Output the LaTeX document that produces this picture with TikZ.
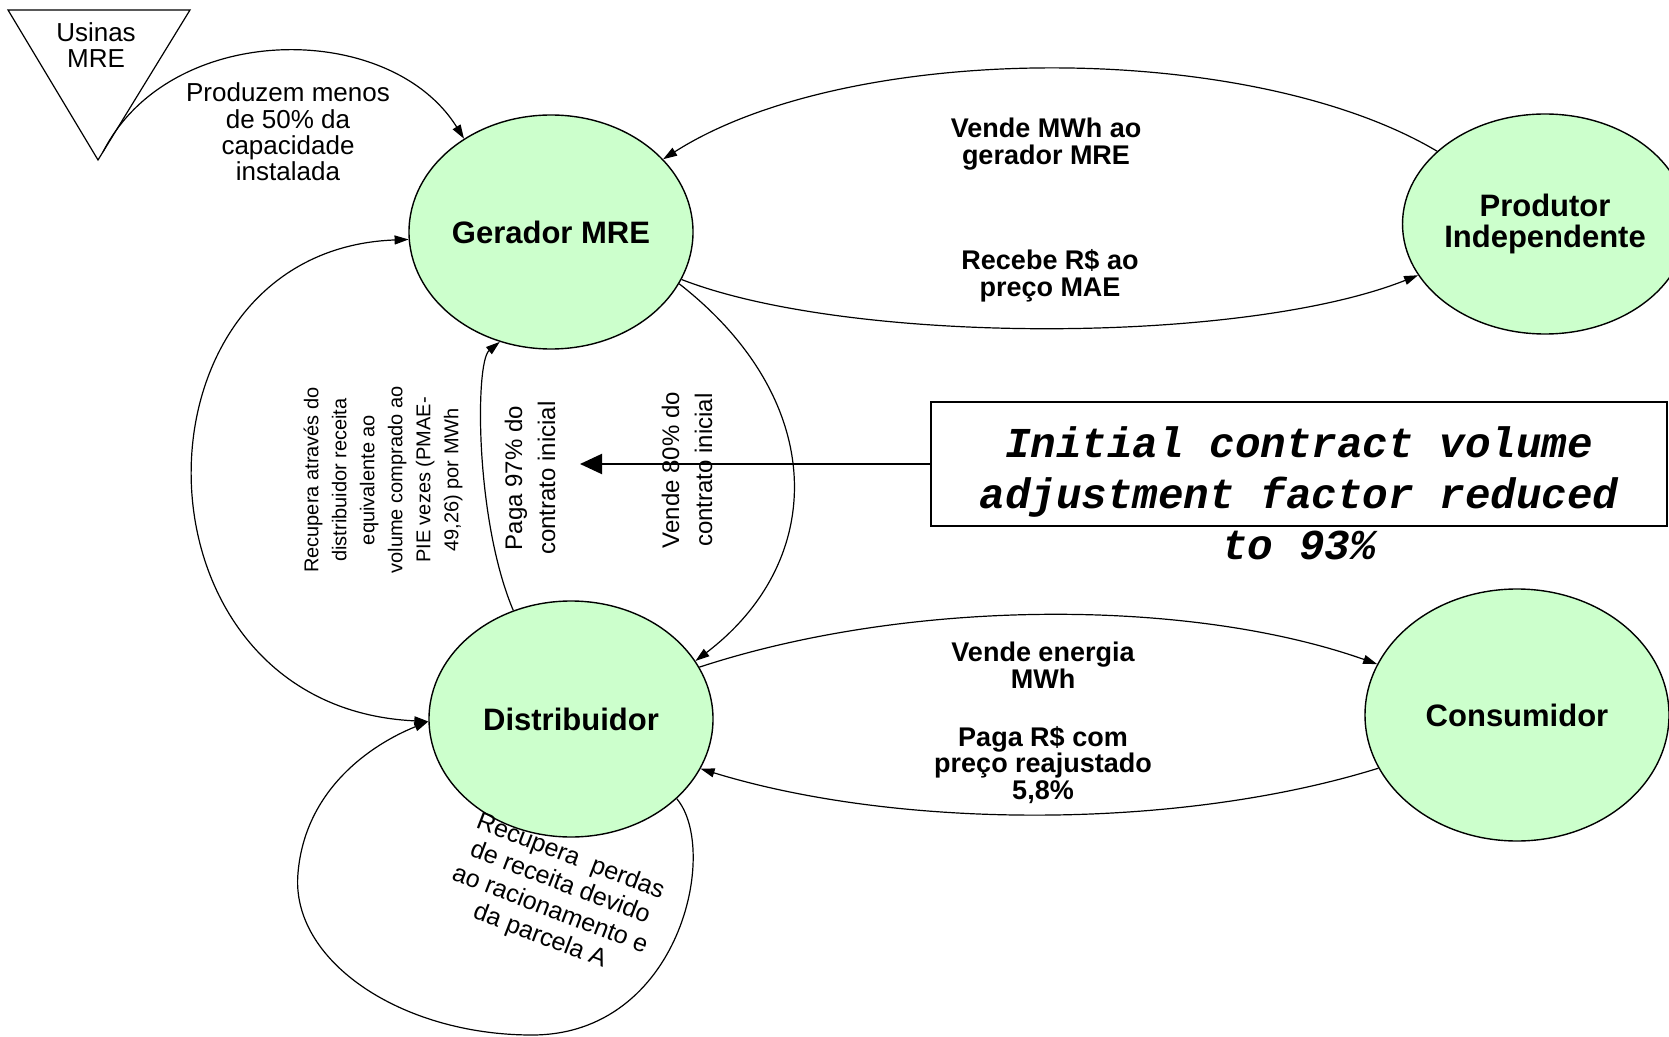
\documentclass[tikz,border=0pt]{standalone}
\usepackage{fontspec}
\setmainfont{Liberation Sans}
\newfontfamily\boxfont{Liberation Mono}
\usetikzlibrary{shapes.geometric,arrows.meta}
\definecolor{partygreen}{RGB}{204,255,204}

\begin{document}
\begin{tikzpicture}[x=0.5pt,y=-0.5pt,
  party/.style={draw, ellipse, fill=partygreen, line width=0.7pt, inner sep=0pt, align=center, font=\fontsize{15.5}{15.5}\selectfont\bfseries},
  conn/.style={line width=0.6pt, -{Triangle[length=7pt,width=4.5pt]}},
  lbl/.style={align=center, inner sep=0pt, font=\fontsize{13.5}{13.3}\selectfont\bfseries},
  note/.style={align=center, inner sep=0pt, font=\fontsize{13}{13.2}\selectfont}]
\useasboundingbox (0,0) rectangle (1669,1037);

\draw[line width=0.6pt] (8,10) -- (190,10) -- (98,160) -- cycle;
\node[note] (usinas) at (96,45) {Usinas\\MRE};
\coordinate (usinasout) at (103,152);

\node[party, minimum width=142pt, minimum height=117pt] (gerador) at (551,232) {Gerador MRE};
\node[party, minimum width=130pt, minimum height=110pt] (produtor) at (1545,224) {Produtor\\Independente};
\node[party, minimum width=142pt, minimum height=118pt] (distrib) at (571,719) {Distribuidor};
\node[party, minimum width=152pt, minimum height=126pt] (consum) at (1517,715) {Consumidor};

\node[note] (produzem) at (288,132) {Produzem menos\\de 50\% da\\capacidade\\instalada};
\node[lbl] (vendemwh) at (1046,144) {Vende MWh ao\\gerador MRE};
\node[lbl] (recebe) at (1050,276) {Recebe R\$ ao\\preço MAE};
\node[lbl] (vendeen) at (1043,665) {Vende energia\\MWh};
\node[lbl] (pagars) at (1043,765) {Paga R\$ com\\preço reajustado\\5,8\%};
\node[note, rotate=90, font=\fontsize{10}{14}\selectfont] (recupera) at (383,480) {Recupera através do\\distribuidor receita\\equivalente ao\\volume comprado ao\\PIE vezes (PMAE-\\49,26) por MWh};
\node[note, rotate=90, font=\fontsize{12}{16.5}\selectfont] (paga97) at (530,478) {Paga 97\% do\\contrato inicial};
\node[note, rotate=90, font=\fontsize{12}{16.5}\selectfont] (vende80) at (687,470) {Vende 80\% do\\contrato inicial};
\node[note, rotate=-21, font=\fontsize{12.5}{14.2}\selectfont] (perdas) at (555,897) {Recupera\ \ perdas\\de receita devido\\ao racionamento e\\da parcela A};

\node[draw, line width=0.8pt, minimum width=368pt, minimum height=62pt, inner sep=0pt] (fatorbox) at (1299,464) {};
\node[align=center, inner sep=0pt, font=\boxfont\bfseries\itshape\fontsize{21.3}{25.5}\selectfont] (fatortext) at (1299,493) {Initial contract volume\\adjustment factor reduced\\to 93\%};
\coordinate (fatortip) at (580,464);

\draw[conn] (usinasout) .. controls (170,20) and (390,20) .. (gerador.133);
\draw[conn] (produtor.146) .. controls (1250,40) and (850,40) .. (gerador.33);
\draw[conn] (gerador.-20) .. controls (850,345) and (1242,345) .. (produtor.202);
\draw[conn] (gerador.-22) .. controls (828,400) and (828,560) .. (distrib.25);
\draw[conn] (distrib.118) .. controls (475,520) and (475,362) .. (gerador.245);
\draw[conn, {Triangle[length=7pt,width=4.5pt]}-{Triangle[length=7pt,width=4.5pt]}] (gerador.183) .. controls (120,250) and (120,707) .. (distrib.181);
\draw[conn] (distrib.-37) .. controls (720,850) and (680,1035) .. (532,1035) .. controls (400,1035) and (290,960) .. (298,873) .. controls (305,790) and (370,745) .. (distrib.181);
\draw[conn] (distrib.22) .. controls (910,598) and (1190,598) .. (consum.160);
\draw[conn] (consum.201) .. controls (1180,830) and (900,830) .. (distrib.-21);
\draw[line width=1pt, -{Triangle[length=11pt,width=10pt]}] (fatorbox.west) -- (fatortip);
\end{tikzpicture}
\end{document}
